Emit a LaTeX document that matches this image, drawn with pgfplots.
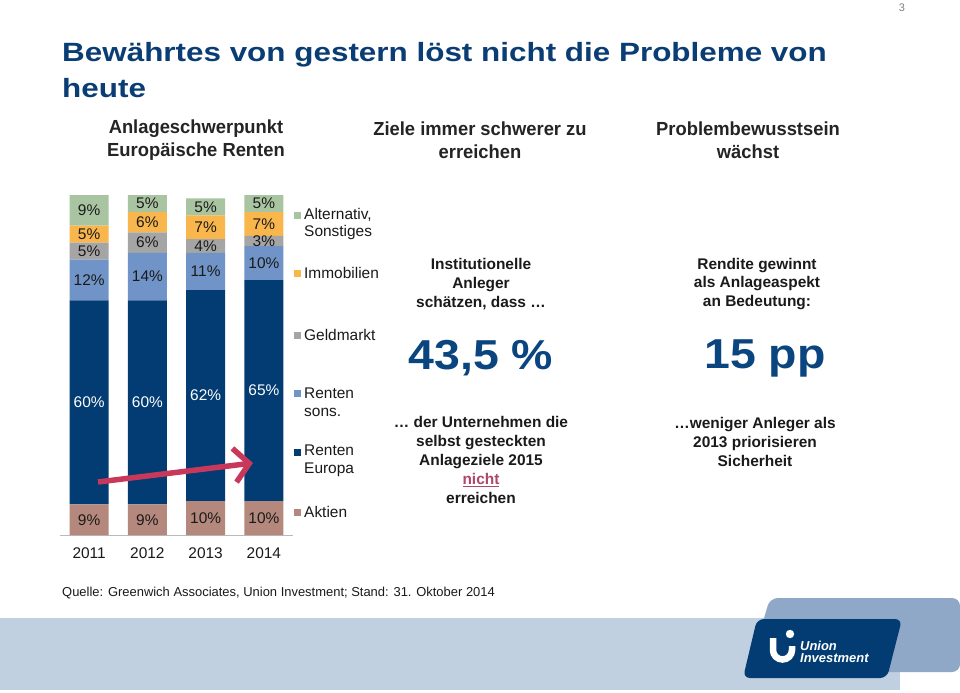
\documentclass[border=0pt]{standalone}
\usepackage{pgfplots}
\pgfplotsset{compat=1.18}
\usepackage{fontspec}
\setmainfont{Liberation Sans}
\newfontfamily\widefont{Liberation Sans}[FakeStretch=1.19]
\newfontfamily\bigfont{Liberation Sans}[FakeStretch=1.11]
\newfontfamily\hdrfont{Liberation Sans}[FakeStretch=0.97]
\usetikzlibrary{arrows.meta}
\definecolor{cAlt}{HTML}{A9C4A0}
\definecolor{cImmo}{HTML}{F8B64C}
\definecolor{cGeld}{HTML}{A5A5A5}
\definecolor{cRS}{HTML}{7094C7}
\definecolor{cRE}{HTML}{023C73}
\definecolor{cAkt}{HTML}{B4887C}
\definecolor{cTitle}{HTML}{0A3D73}
\definecolor{cBig}{HTML}{0B4580}
\definecolor{cArrow}{HTML}{C8385A}
\definecolor{cNicht}{HTML}{B0466A}
\definecolor{cTxt}{HTML}{1A1A1A}
\definecolor{cBand}{HTML}{C0D0E0}
\definecolor{cMid}{HTML}{8FA8C8}
\begin{document}
\begin{tikzpicture}
\begin{scope}[x=1bp,y=-1bp]
\path[use as bounding box, fill=white] (0,0) rectangle (960,693);
% page number
\node[font=\fontsize{11}{12}\selectfont, text=gray] at (902,8) {3};
% title
\node[anchor=base west, font=\widefont\fontsize{26.5}{30}\bfseries\selectfont, text=cTitle, inner sep=0pt] at (62,62) {Bewährtes von gestern löst nicht die Probleme von};
\node[anchor=base west, font=\widefont\fontsize{26.5}{30}\bfseries\selectfont, text=cTitle, inner sep=0pt] at (62,98) {heute};
% column headers
\node[align=center, font=\hdrfont\fontsize{19}{23}\bfseries\selectfont, text=cTxt!90!gray] at (196,140) {Anlageschwerpunkt\\Europäische Renten};
\node[align=center, font=\hdrfont\fontsize{19}{23}\bfseries\selectfont, text=cTxt!90!gray] at (480,140) {Ziele immer schwerer zu\\erreichen};
\node[align=center, font=\hdrfont\fontsize{19}{23}\bfseries\selectfont, text=cTxt!90!gray] at (748,140) {Problembewusstsein\\wächst};
% middle column
\node[align=center, font=\fontsize{15.5}{19}\bfseries\selectfont, text=cTxt] at (481,284) {Institutionelle\\Anleger\\schätzen, dass …};
\node[font=\bigfont\fontsize{42}{44}\bfseries\selectfont, text=cBig] at (481,358) {43,5\hspace{0.3em}\%};
\node[align=center, font=\fontsize{15.5}{19}\bfseries\selectfont, text=cTxt] at (481,460) {… der Unternehmen die\\selbst gesteckten\\Anlageziele 2015\\{\color{cNicht}\underline{nicht}}\\erreichen};
% right column
\node[align=center, font=\fontsize{15.5}{19}\bfseries\selectfont, text=cTxt] at (757,284) {Rendite gewinnt\\als Anlageaspekt\\an Bedeutung:};
\node[font=\bigfont\fontsize{42}{44}\bfseries\selectfont, text=cBig] at (765,358) {15 pp};
\node[align=center, font=\fontsize{15.5}{19}\bfseries\selectfont, text=cTxt] at (755,442) {…weniger Anleger als\\2013 priorisieren\\Sicherheit};
% legend
\foreach \c/\y in {cAlt/215, cImmo/273, cGeld/335, cRS/393, cRE/452, cAkt/512}
  \fill[\c] (293.5,\y-3.5) rectangle (300.5,\y+3.5);
\begin{scope}[every node/.style={anchor=west, align=left, font=\fontsize{15.5}{18}\selectfont, text=cTxt, inner sep=0pt}]
\node at (304,224) {Alternativ,\\Sonstiges};
\node at (304,273) {Immobilien};
\node at (304,335) {Geldmarkt};
\node at (304,402) {Renten\\sons.};
\node at (304,461) {Renten\\Europa};
\node at (304,512) {Aktien};
\end{scope}
% source
\node[anchor=west, font=\fontsize{13}{14}\selectfont, text=cTxt, inner sep=0pt] at (62,593) {Quelle: Greenwich Associates, Union Investment; Stand: 31. Oktober 2014};
% bottom band and logo
\fill[cBand] (0,618) rectangle (900,690);
\fill[cMid, rounded corners=8bp] (770,598) -- (960,598) -- (960,672) -- (748,672) -- cycle;
\fill[cRE, rounded corners=7bp] (757,619) -- (902,619) -- (887,678) -- (743,678) -- cycle;
\draw[white, line width=6.5bp] (773,638) -- (773,650) arc[start angle=180, end angle=0, radius=9.5] -- (792,646);
\fill[white] (790,634) circle (4.2);
\node[anchor=west, align=left, font=\fontsize{13}{11.5}\bfseries\itshape\selectfont, text=white, inner sep=0pt] at (800,652) {Union\\Investment};
\end{scope}

\begin{axis}[
  at={(60bp,-535bp)}, anchor=south west,
  scale only axis, width=233bp, height=340bp,
  xmin=-0.5, xmax=3.5, ymin=0, ymax=100,
  ybar stacked, bar width=39bp,
  axis y line=none, axis x line*=bottom,
  x axis line style={draw=gray!55, line width=0.8pt, -},
  xtick={0,1,2,3}, xticklabels={2011,2012,2013,2014},
  major tick length=0pt,
  xticklabel style={font=\fontsize{15.5}{16}\selectfont, text=cTxt, yshift=-9bp},
  clip=false,
]
\addplot[fill=cAkt, draw=none] coordinates {(0,9) (1,9) (2,10) (3,10)};
\addplot[fill=cRE, draw=none] coordinates {(0,60) (1,60) (2,62) (3,65)};
\addplot[fill=cRS, draw=none] coordinates {(0,12) (1,14) (2,11) (3,10)};
\addplot[fill=cGeld, draw=none] coordinates {(0,5) (1,6) (2,4) (3,3)};
\addplot[fill=cImmo, draw=none] coordinates {(0,5) (1,6) (2,7) (3,7)};
\addplot[fill=cAlt, draw=none] coordinates {(0,9) (1,5) (2,5) (3,5)};
\end{axis}

\begin{axis}[
  at={(60bp,-535bp)}, anchor=south west,
  scale only axis, width=233bp, height=340bp,
  xmin=-0.5, xmax=3.5, ymin=0, ymax=100,
  hide axis, clip=false,
  nodes near coords, point meta=explicit symbolic,
  nodes near coords align=center,
]
\addplot[only marks, mark=none, every node near coord/.append style={font=\fontsize{15.5}{16}\selectfont, text=cTxt}]
  table[meta=l] {
x y l
0 4.5 9\%
1 4.5 9\%
2 5 10\%
3 5 10\%
0 75 12\%
1 76 14\%
2 77.5 11\%
3 80 10\%
0 83.5 5\%
1 86 6\%
2 85 4\%
3 86.5 3\%
0 88.5 5\%
1 92 6\%
2 90.5 7\%
3 91.5 7\%
0 95.5 9\%
1 97.5 5\%
2 96.5 5\%
3 97.5 5\%
};
\addplot[only marks, mark=none, every node near coord/.append style={font=\fontsize{15.5}{16}\selectfont, text=white}]
  table[meta=l] {
x y l
0 39 60\%
1 39 60\%
2 41 62\%
3 42.5 65\%
};
\end{axis}

\begin{scope}[x=1bp,y=-1bp]
\draw[cArrow, line width=5.5bp, -{Straight Barb[length=15bp, width=34bp]}] (98,482) -- (253,463);
\end{scope}
\end{tikzpicture}
\end{document}
